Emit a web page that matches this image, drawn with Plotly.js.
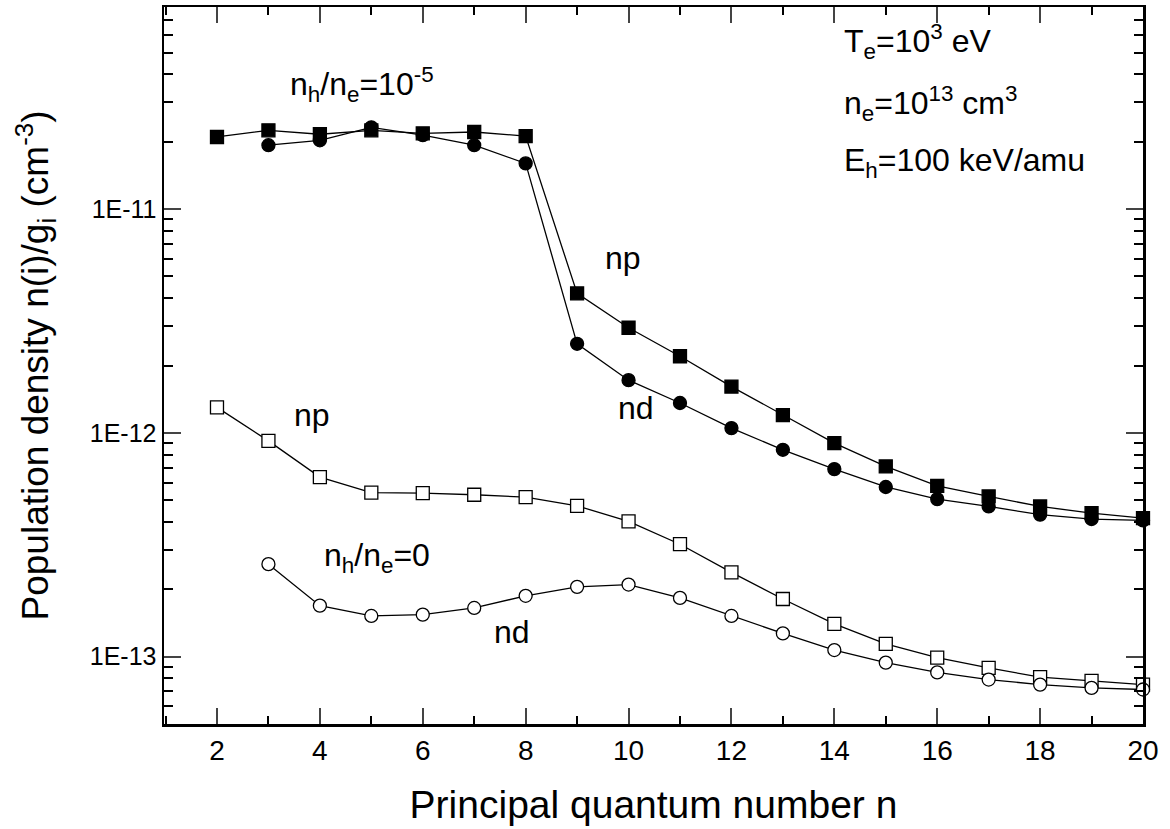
<!DOCTYPE html>
<html>
<head>
<meta charset="utf-8">
<script src="https://cdn.plot.ly/plotly-3.0.1.min.js"></script>
<style>html,body{margin:0;padding:0;background:#fff;}#chart{width:1170px;height:829px;}</style>
</head>
<body>
<div id="chart"></div>
<script>
// Principal quantum number n
const nAll = [2,3,4,5,6,7,8,9,10,11,12,13,14,15,16,17,18,19,20];
const nFrom3 = [3,4,5,6,7,8,9,10,11,12,13,14,15,16,17,18,19,20];

// n_h/n_e = 1e-5 : np (filled squares), nd (filled circles)
const npBeam = [2.10e-11,2.25e-11,2.16e-11,2.25e-11,2.18e-11,2.21e-11,2.12e-11,4.2e-12,2.95e-12,2.2e-12,1.61e-12,1.20e-12,9.0e-13,7.08e-13,5.80e-13,5.20e-13,4.69e-13,4.38e-13,4.16e-13];
const ndBeam = [1.93e-11,2.03e-11,2.32e-11,2.14e-11,1.93e-11,1.60e-11,2.5e-12,1.72e-12,1.36e-12,1.05e-12,8.4e-13,6.89e-13,5.73e-13,5.06e-13,4.69e-13,4.31e-13,4.12e-13,4.06e-13];

// n_h/n_e = 0 : np (open squares), nd (open circles)
const npNoBeam = [1.30e-12,9.21e-13,6.34e-13,5.41e-13,5.38e-13,5.29e-13,5.16e-13,4.72e-13,4.02e-13,3.18e-13,2.38e-13,1.81e-13,1.40e-13,1.14e-13,9.9e-14,8.9e-14,8.1e-14,7.8e-14,7.5e-14];
const ndNoBeam = [2.59e-13,1.69e-13,1.52e-13,1.54e-13,1.65e-13,1.87e-13,2.05e-13,2.10e-13,1.83e-13,1.52e-13,1.27e-13,1.07e-13,9.4e-14,8.5e-14,7.9e-14,7.5e-14,7.25e-14,7.13e-14];

const yTickVals = [1e-13,1e-12,1e-11];
const yTickText = ["1E-13","1E-12","1E-11"];
const xTickVals = [2,4,6,8,10,12,14,16,18,20];

const minorY = [];
[-14,-13,-12,-11].forEach(e => { for (let d = 2; d <= 9; d++) minorY.push(d * Math.pow(10, e)); });

const FONT = "'Liberation Sans', Arial, Helvetica, sans-serif";

function tr(x, y, symbol, filled, name) {
  return {
    x: x, y: y, type: 'scatter', mode: 'lines+markers', name: name,
    line: {color: '#000', width: 1.3},
    marker: {symbol: symbol, size: 13, color: filled ? '#000' : '#fff',
             line: {color: '#000', width: 1.3}},
    cliponaxis: false
  };
}

const data = [
  tr(nAll, npBeam, 'square', true, 'np, nh/ne=1e-5'),
  tr(nFrom3, ndBeam, 'circle', true, 'nd, nh/ne=1e-5'),
  tr(nAll, npNoBeam, 'square', false, 'np, nh/ne=0'),
  tr(nFrom3, ndNoBeam, 'circle', false, 'nd, nh/ne=0')
];

const ann = (x, y, text) => ({
  x: x, y: y, xref: 'paper', yref: 'paper', text: text, showarrow: false,
  xanchor: 'left', yanchor: 'middle', font: {family: FONT, size: 32, color: '#000'}
});

// annotation positions in paper coordinates (plot area: left 164, top 7, 979 x 717)
const W = 979, H = 717, L = 164, T = 7;
const px = x => (x - L) / W;
const py = y => 1 - (y - T) / H;

const layout = {
  width: 1170, height: 829,
  margin: {l: 164, r: 27, t: 7, b: 105},
  paper_bgcolor: '#fff', plot_bgcolor: '#fff',
  showlegend: false,
  font: {family: FONT, color: '#000'},
  xaxis: {
    range: [0.97, 20], tickvals: xTickVals, ticks: 'inside', ticklen: 16, tickwidth: 2,
    showline: true, linewidth: 2.5, linecolor: '#000', mirror: 'ticks', showgrid: false, zeroline: false,
    tickfont: {family: FONT, size: 28}, ticklabelstandoff: 0,
    minor: {dtick: 1, ticks: 'inside', ticklen: 8, tickwidth: 2, tickcolor: '#000', showgrid: false},
    title: {text: 'Principal quantum number n', font: {family: FONT, size: 39}, standoff: 26}
  },
  yaxis: {
    type: 'log', range: [Math.log10(5e-14), Math.log10(8e-11)],
    tickvals: yTickVals, ticktext: yTickText, ticks: 'inside', ticklen: 17, tickwidth: 2,
    showline: true, linewidth: 2.5, linecolor: '#000', mirror: 'ticks', showgrid: false, zeroline: false,
    tickfont: {family: FONT, size: 25},
    minor: {tickvals: minorY, ticks: 'inside', ticklen: 9, tickwidth: 2, tickcolor: '#000', showgrid: false},
    title: {text: 'Population density n(i)/g<sub>i</sub> (cm<sup>-3</sup>)', font: {family: FONT, size: 37}, standoff: 30}
  },
  annotations: [
    ann(px(288), py(84), 'n<sub>h</sub>/n<sub>e</sub>=10<sup>-5</sup>'),
    ann(px(842), py(42), 'T<sub>e</sub>=10<sup>3</sup> eV'),
    ann(px(842), py(104), 'n<sub>e</sub>=10<sup>13</sup> cm<sup>3</sup>'),
    ann(px(842), py(162), 'E<sub>h</sub>=100 keV/amu'),
    ann(px(603), py(258), 'np'),
    ann(px(616), py(408), 'nd'),
    ann(px(292), py(415), 'np'),
    ann(px(322), py(557), 'n<sub>h</sub>/n<sub>e</sub>=0'),
    ann(px(492), py(632), 'nd')
  ]
};

Plotly.newPlot('chart', data, layout, {displayModeBar: false, staticPlot: true});
</script>
</body>
</html>
